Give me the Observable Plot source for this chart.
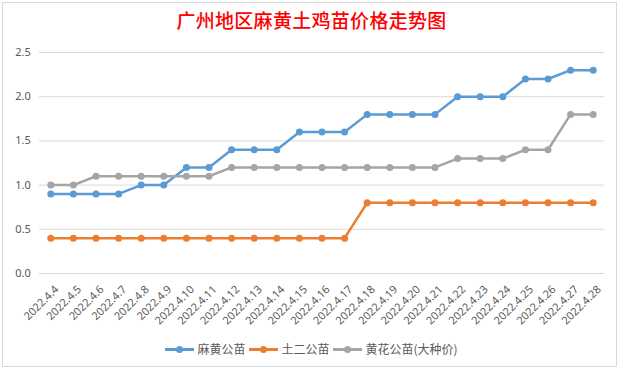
<!DOCTYPE html>
<html>
<head>
<meta charset="utf-8">
<script src="https://cdn.jsdelivr.net/npm/d3@7"></script>
<script src="https://cdn.jsdelivr.net/npm/@observablehq/plot@0.6"></script>
<style>
  html, body { margin: 0; padding: 0; background: #fff; }
  #wrap { position: relative; width: 623px; height: 371px; overflow: hidden; font-family: "Noto Sans CJK SC", "Noto Sans", sans-serif; }
  #frame { position: absolute; left: 2px; top: 2px; width: 615px; height: 365px; border: 1px solid #d9d9d9; box-sizing: border-box; }
  #title { position: absolute; left: 0; top: 7px; width: 623px; text-align: center; color: #ff0000; font-size: 19px; font-weight: 500; line-height: 26px; letter-spacing: 0.3px; }
  #chart { position: absolute; left: 0; top: 40px; }
  #legend { position: absolute; left: 0; top: 340px; width: 623px; display: flex; justify-content: center; align-items: center; font-size: 12px; color: #595959; line-height: 18px; }
  .item { display: flex; align-items: center; margin: 0 2px; }
  .sw { position: relative; width: 29px; height: 10px; margin-right: 3px; }
  .sw .ln { position: absolute; left: 0; top: 4px; width: 29px; height: 2.5px; }
  .sw .dt { position: absolute; left: 11px; top: 1.5px; width: 7px; height: 7px; border-radius: 50%; }
</style>
</head>
<body>
<div id="wrap">
  <div id="frame"></div>
  <div id="title">广州地区麻黄土鸡苗价格走势图</div>
  <div id="chart"></div>
  <div id="legend"></div>
</div>
<script>
const dates = ["2022.4.4","2022.4.5","2022.4.6","2022.4.7","2022.4.8","2022.4.9","2022.4.10","2022.4.11","2022.4.12","2022.4.13","2022.4.14","2022.4.15","2022.4.16","2022.4.17","2022.4.18","2022.4.19","2022.4.20","2022.4.21","2022.4.22","2022.4.23","2022.4.24","2022.4.25","2022.4.26","2022.4.27","2022.4.28"];
const seriesNames = ["麻黄公苗", "土二公苗", "黄花公苗(大种价)"];
const mahuang = [0.9,0.9,0.9,0.9,1.0,1.0,1.2,1.2,1.4,1.4,1.4,1.6,1.6,1.6,1.8,1.8,1.8,1.8,2.0,2.0,2.0,2.2,2.2,2.3,2.3];
const tuer    = [0.4,0.4,0.4,0.4,0.4,0.4,0.4,0.4,0.4,0.4,0.4,0.4,0.4,0.4,0.8,0.8,0.8,0.8,0.8,0.8,0.8,0.8,0.8,0.8,0.8];
const huanghua= [1.0,1.0,1.1,1.1,1.1,1.1,1.1,1.1,1.2,1.2,1.2,1.2,1.2,1.2,1.2,1.2,1.2,1.2,1.3,1.3,1.3,1.4,1.4,1.8,1.8];
const yTicks = [0, 0.5, 1.0, 1.5, 2.0, 2.5];
const colors = ["#5B9BD5", "#ED7D31", "#A5A5A5"];

const allSeries = [mahuang, tuer, huanghua];
const data = [];
allSeries.forEach((vals, s) => vals.forEach((v, i) => data.push({date: dates[i], value: v, series: seriesNames[s]})));

const plot = Plot.plot({
  width: 623,
  height: 296,
  marginTop: 12,
  marginBottom: 63,
  marginLeft: 39,
  marginRight: 19,
  style: {fontFamily: "'Noto Sans', 'Noto Sans CJK SC', sans-serif", fontSize: "11px", color: "#595959", background: "transparent"},
  x: {type: "point", domain: dates, padding: 0.5, round: false, axis: null},
  y: {domain: [0, 2.5], axis: null},
  color: {domain: seriesNames, range: colors},
  marks: [
    Plot.ruleY(yTicks, {stroke: "#d9d9d9", strokeWidth: 1}),
    Plot.text(yTicks, {x: () => dates[0], y: d => d, text: d => d.toFixed(1), textAnchor: "end", dx: -20, fill: "#595959", fontSize: 11}),
    Plot.text(dates, {x: d => d, y: () => 0, text: d => d, rotate: -45, textAnchor: "end", dx: 6, dy: 14, fill: "#595959", fontSize: 11}),
    Plot.line(data, {x: "date", y: "value", z: "series", stroke: "series", strokeWidth: 2.5}),
    Plot.dot(data, {x: "date", y: "value", fill: "series", r: 3.5})
  ]
});
document.getElementById("chart").appendChild(plot);

const legend = document.getElementById("legend");
seriesNames.forEach((name, i) => {
  const item = document.createElement("div");
  item.className = "item";
  item.innerHTML = `<div class="sw"><div class="ln" style="background:${colors[i]}"></div><div class="dt" style="background:${colors[i]}"></div></div><span>${name}</span>`;
  legend.appendChild(item);
});
</script>
</body>
</html>
